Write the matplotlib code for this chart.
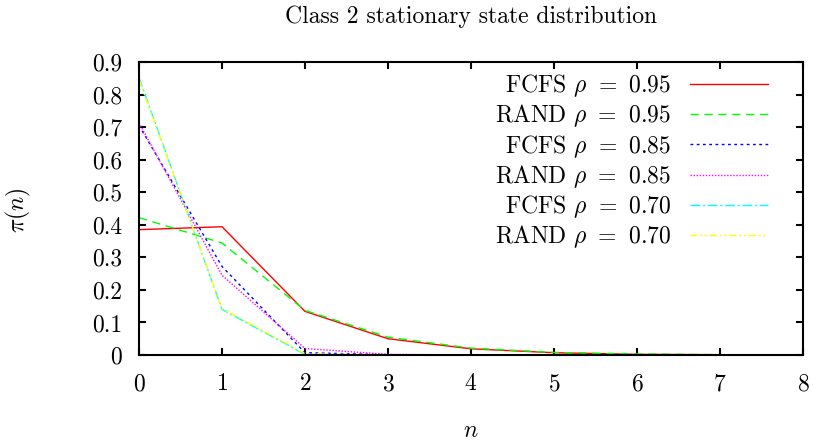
import matplotlib
matplotlib.use("Agg")
import matplotlib.pyplot as plt

plt.rcParams['font.family'] = 'serif'
plt.rcParams['font.serif'] = ['cmr10', 'DejaVu Serif']
plt.rcParams['mathtext.fontset'] = 'cm'
plt.rcParams['axes.formatter.use_mathtext'] = True

n = [0, 1, 2, 3, 4, 5, 6, 7, 8]
fcfs_095 = [0.385, 0.394, 0.134, 0.050, 0.019, 0.007, 0.002, 0.001, 0.0]
rand_095 = [0.422, 0.344, 0.137, 0.055, 0.021, 0.008, 0.003, 0.001, 0.0]
fcfs_085 = [0.705, 0.272, 0.007, 0.001, 0.0, 0.0, 0.0, 0.0, 0.0]
rand_085 = [0.713, 0.245, 0.020, 0.002, 0.0, 0.0, 0.0, 0.0, 0.0]
fcfs_070 = [0.852, 0.140, 0.002, 0.0, 0.0, 0.0, 0.0, 0.0, 0.0]
rand_070 = [0.846, 0.143, 0.004, 0.0, 0.0, 0.0, 0.0, 0.0, 0.0]

labels = [r'FCFS $\rho$ $=$ $0.95$', r'RAND $\rho$ $=$ $0.95$', r'FCFS $\rho$ $=$ $0.85$',
          r'RAND $\rho$ $=$ $0.85$', r'FCFS $\rho$ $=$ $0.70$', r'RAND $\rho$ $=$ $0.70$']
series = [fcfs_095, rand_095, fcfs_085, rand_085, fcfs_070, rand_070]
colors = ['#ff0000', '#00ff00', '#0000ff', '#ff00ff', '#00ffff', '#ffff00']
styles = ['-', (0, (6, 4)), (0, (2, 2.5)), (0, (1, 1.2)), (0, (7, 2, 1.5, 2)), (0, (5, 2, 1.5, 2, 1.5, 2))]

FS = 17

fig = plt.figure(figsize=(8.13, 4.41), dpi=100)
ax = fig.add_axes([139 / 813, 1 - 355 / 441, (803 - 139) / 813, (355 - 62) / 441])

for y, lab, c, ls in zip(series, labels, colors, styles):
    ax.plot(n, y, color=c, linestyle=ls, linewidth=1.0, label=lab)

ax.set_xlim(0, 8)
ax.set_ylim(0, 0.9)
ax.set_xticks(range(0, 9))
yt = [i / 10 for i in range(10)]
ax.set_yticks(yt)
ax.set_yticklabels(['0'] + ['%.1f' % v for v in yt[1:]])

for s in ax.spines.values():
    s.set_linewidth(1.5)
ax.tick_params(direction='in', length=5, width=1.5, top=True, right=True, labelsize=FS)
ax.tick_params(axis='y', pad=12)
ax.tick_params(axis='x', pad=13)

ax.set_xlabel(r'$n$', fontsize=FS, va='center')
ax.xaxis.set_label_coords(0.5, -0.259)
ax.set_ylabel(r'$\pi(n)$', fontsize=FS, rotation=90, va='center', ha='center')
ax.yaxis.set_label_coords(-0.181, 0.495)
ax.text(0.5, 1.154, 'Class 2 stationary state distribution', transform=ax.transAxes,
        ha='center', va='center', fontsize=FS)

leg = ax.legend(loc='upper right', markerfirst=False, frameon=False, fontsize=FS,
                handlelength=3.3, labelspacing=0.15, handletextpad=0.8,
                borderaxespad=0.0, borderpad=0.0, bbox_to_anchor=(0.947, 0.965))

fig.savefig('out.png', dpi=100)
